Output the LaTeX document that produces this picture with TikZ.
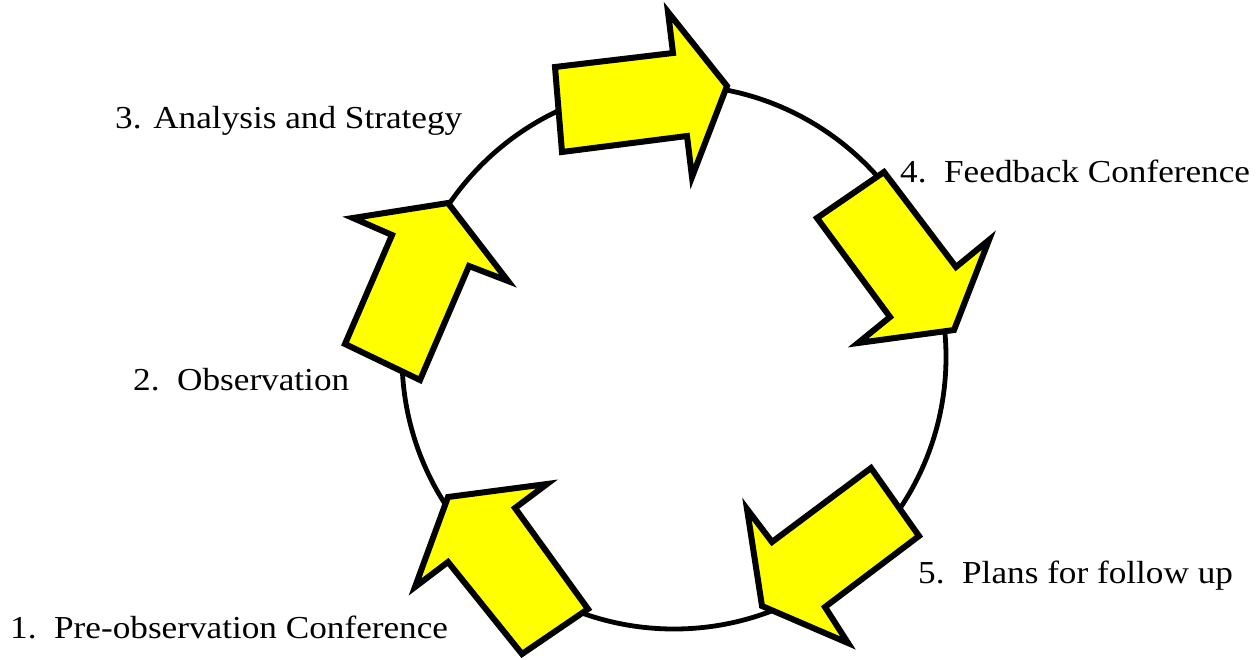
\documentclass[tikz,border=0pt]{standalone}
\usepackage{fontspec}
\setmainfont{Liberation Serif}[FakeStretch=1.1]
\definecolor{arrowyellow}{RGB}{255,255,0}
\begin{document}
\begin{tikzpicture}[x=1pt,y=-1pt,
  blockarrow/.style={draw=black,fill=arrowyellow,line width=6pt,line join=miter},
  ring/.style={draw=black,line width=4.8pt},
  lbl/.style={anchor=base west,inner sep=0pt,font=\fontsize{32}{38}\selectfont}]
\useasboundingbox (0,0) rectangle (1259,659);
\draw[ring] (674,357) circle[radius=272];
% arrow top (3 -> 4)
\draw[blockarrow] (555,67) -- (562,152) -- (687,136) -- (692,177) -- (727,86) -- (668,12) -- (673,53) -- cycle;
% arrow upper right (4 -> 5)
\draw[blockarrow] (884,172) -- (817,218) -- (890,317) -- (858,343) -- (954,330) -- (989,240) -- (956,267) -- cycle;
% arrow lower right (5 -> 1)
\draw[blockarrow] (871,468) -- (919,536) -- (825,607) -- (848,643) -- (762,606) -- (747,509) -- (772,542) -- cycle;
% arrow lower left (1 -> 2)
\draw[blockarrow] (588,609) -- (522,654) -- (448,562) -- (415,587) -- (448,497) -- (547,484) -- (515,508) -- cycle;
% arrow left (2 -> 3)
\draw[blockarrow] (345,344) -- (420,380) -- (469,266) -- (508,281) -- (448,203) -- (353,218) -- (392,235) -- cycle;
\node[lbl] (l3) at (115,128) {3. Analysis and Strategy};
\node[lbl] (l4) at (900,182) {4.\ \ Feedback Conference};
\node[lbl] (l2) at (133,390) {2.\ \ Observation};
\node[lbl] (l1) at (10,638) {1.\ \ Pre-observation Conference};
\node[lbl] (l5) at (918,583) {5.\ \ Plans for follow up};
\end{tikzpicture}
\end{document}
